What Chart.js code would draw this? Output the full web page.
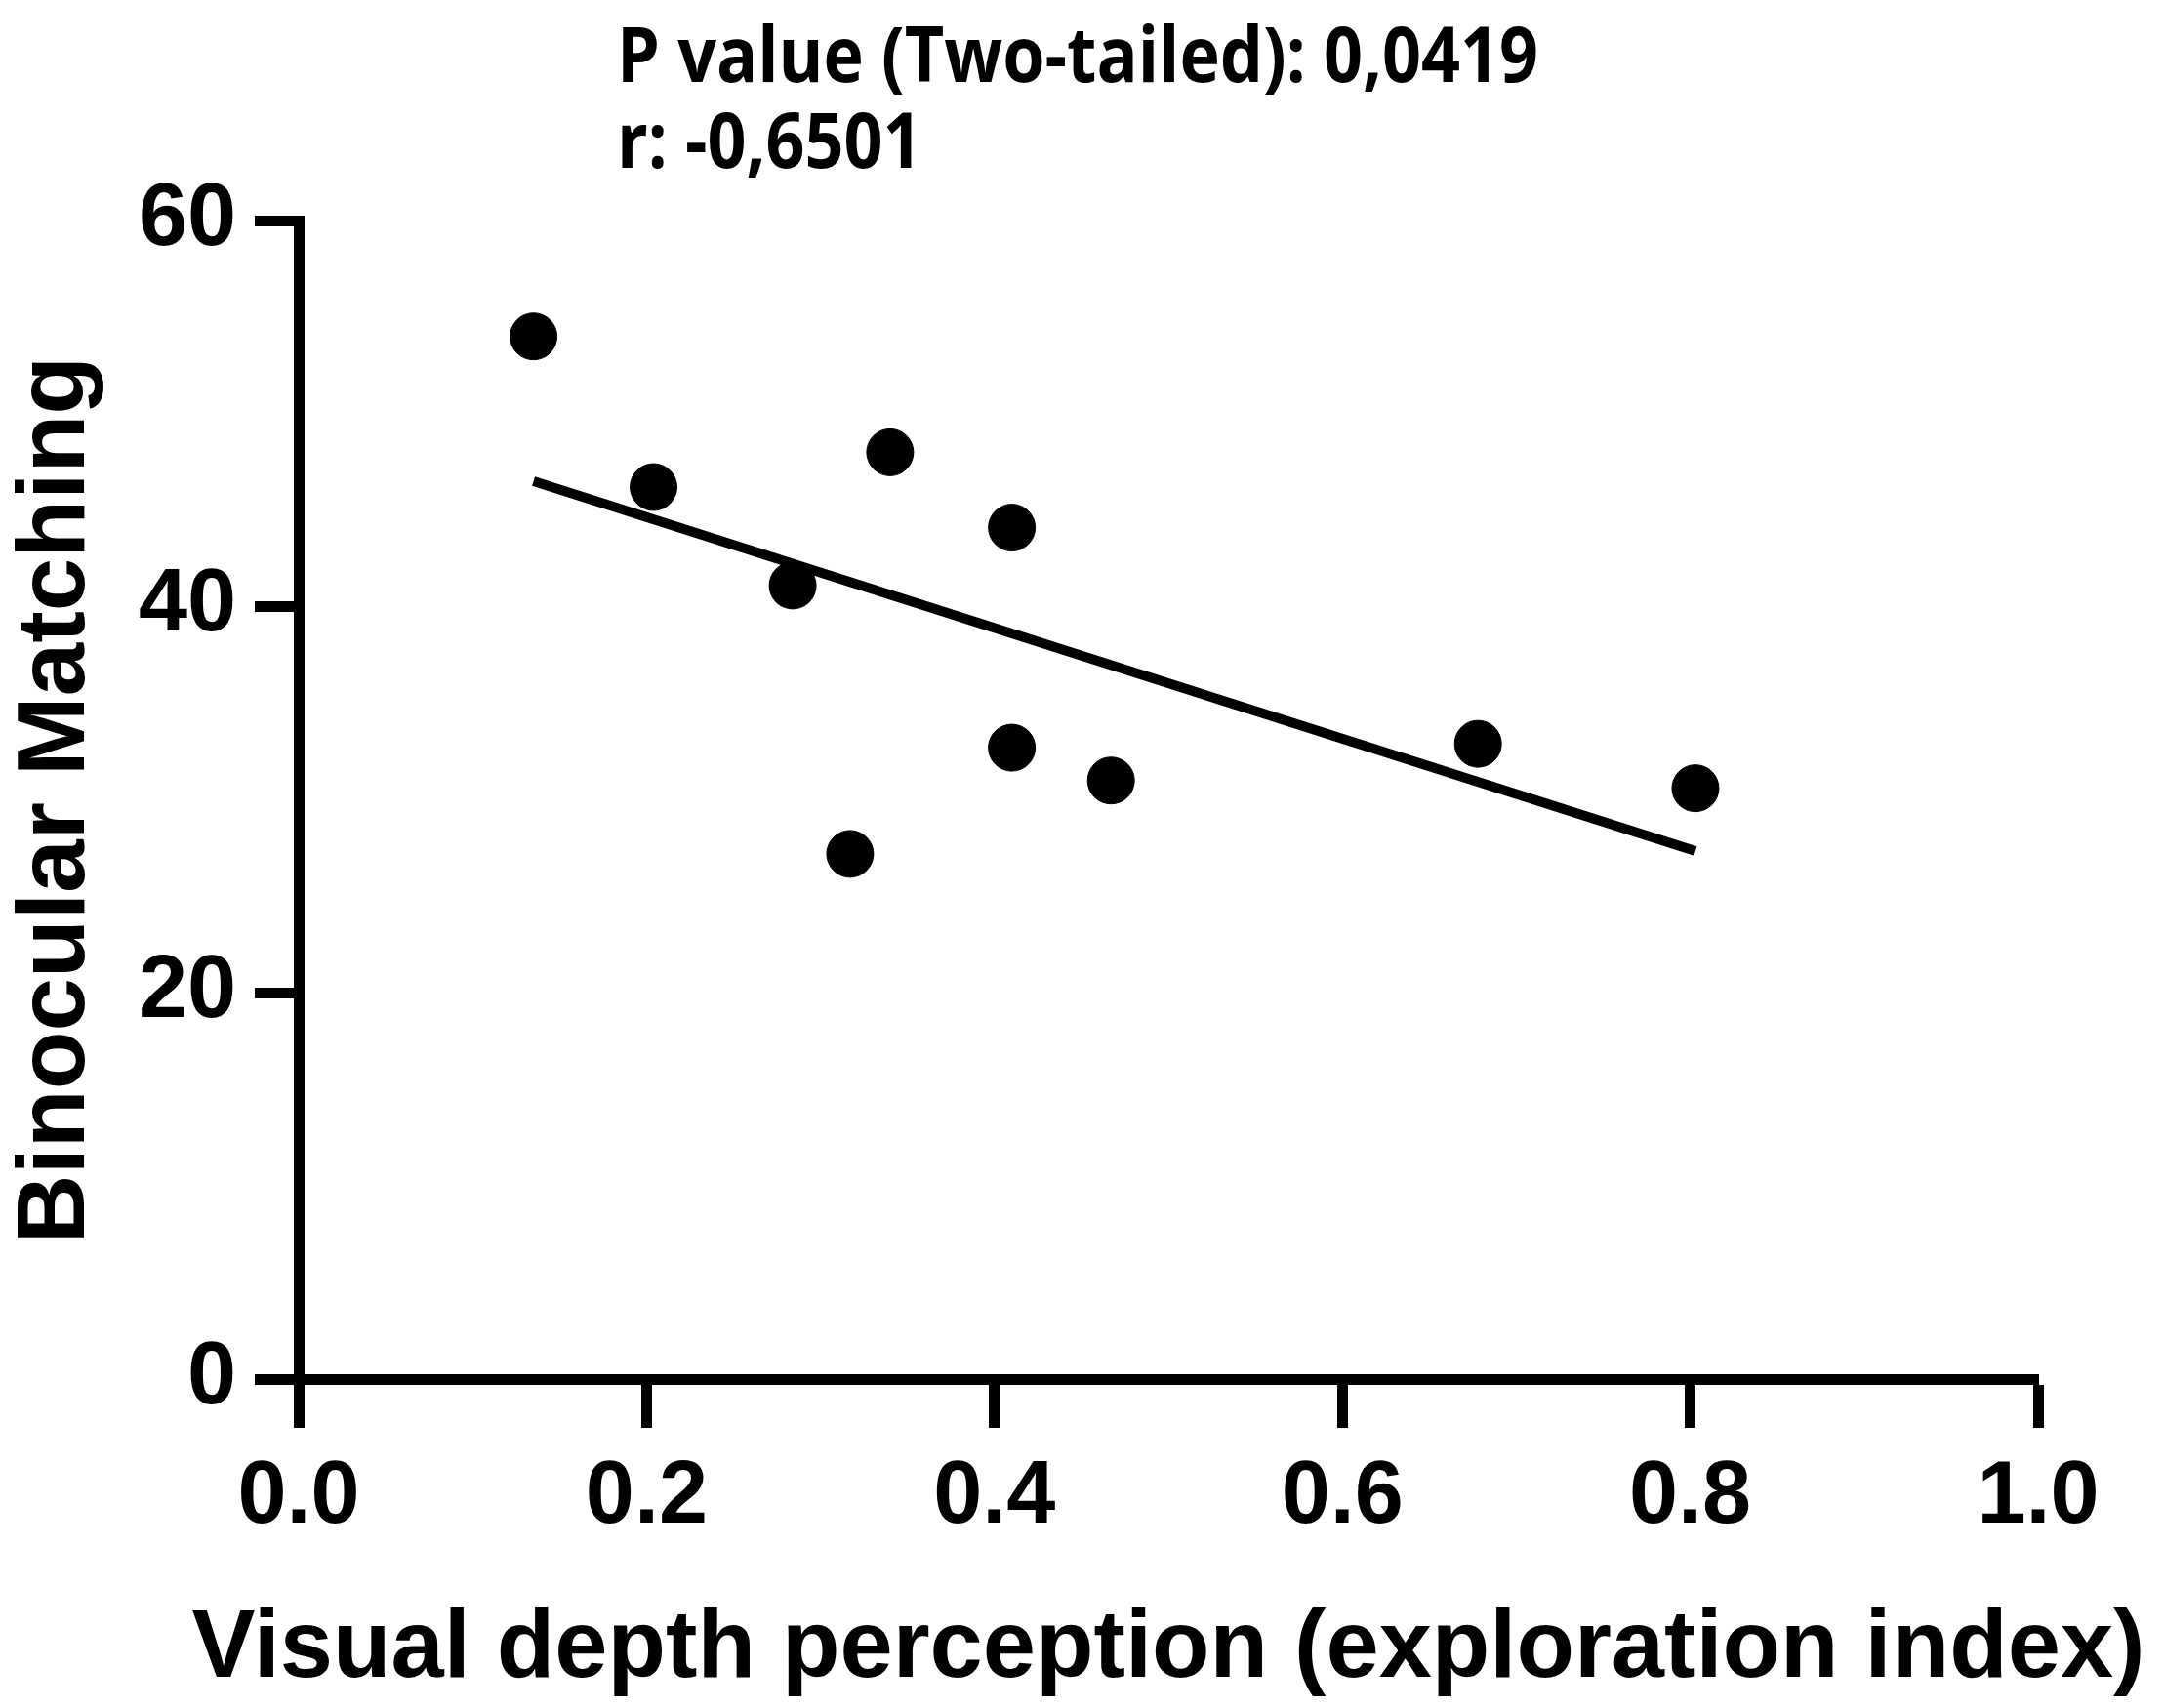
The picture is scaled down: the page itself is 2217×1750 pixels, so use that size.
<!DOCTYPE html>
<html>
<head>
<meta charset="utf-8">
<script src="https://cdn.jsdelivr.net/npm/chart.js@4/dist/chart.umd.min.js"></script>
<style>
  html, body { margin: 0; padding: 0; background: #fff; }
  #wrap { width: 2217px; height: 1750px; }
</style>
</head>
<body>
<div id="wrap"><canvas id="myChart" width="2217" height="1750"></canvas></div>
<script>
// measured points
const depthIndex = [0.135, 0.204, 0.340, 0.284, 0.410, 0.410, 0.467, 0.317, 0.678, 0.803];
const binocular = [54.0, 46.2, 48.0, 41.1, 44.1, 32.7, 31.0, 27.2, 32.9, 30.6];

// fitted line endpoints
const fitX = [0.135, 0.803];
const fitY = [46.5, 27.35];

const xTicks = [0, 0.2, 0.4, 0.6, 0.8, 1.0];
const yTicks = [0, 20, 40, 60];

const xTitle = "Visual depth perception (exploration index)";
const yTitle = "Binocular Matching";
const statLines = ["P value (Two-tailed): 0,0419", "r: -0,6501"];

const tickFont = { family: "'Liberation Sans', Arial, sans-serif", size: 90, weight: "bold" };
const titleFont = { family: "'Liberation Sans', Arial, sans-serif", size: 98, weight: "bold" };

// squeeze a text to a given width, like the narrow fonts of the original
function fitText(ctx, text, x, y, width) {
  const w0 = ctx.measureText(text).width;
  const sx = Math.min(1, width / w0);
  ctx.save();
  ctx.translate(x, y);
  ctx.scale(sx, 1);
  ctx.fillText(text, 0, 0);
  ctx.restore();
}

const extraText = {
  id: "extraText",
  afterDraw(chart) {
    const ctx = chart.ctx;
    const area = chart.chartArea;
    ctx.save();
    ctx.fillStyle = "#000";
    ctx.textBaseline = "alphabetic";

    // stats above the plot
    ctx.font = "bold 78px 'Open Sans', sans-serif";
    ctx.textAlign = "left";
    fitText(ctx, statLines[0], 632, 84, 944);
    fitText(ctx, statLines[1], 632, 172, 944 * ctx.measureText(statLines[1]).width / ctx.measureText(statLines[0]).width);

    // x axis title, wider than the axis itself
    ctx.font = "bold 98px 'Liberation Sans', Arial, sans-serif";
    ctx.textAlign = "center";
    fitText(ctx, xTitle, (area.left + area.right) / 2, 1718, 2001);
    ctx.restore();
  },
};

const chart1 = document.getElementById("myChart");
new Chart(chart1, {
  type: "scatter",
  data: {
    datasets: [
      {
        label: "fit",
        type: "line",
        data: fitX.map((x, i) => ({ x: x, y: fitY[i] })),
        borderColor: "#000",
        borderWidth: 10,
        pointRadius: 0,
        fill: false,
        order: 2,
      },
      {
        label: "subjects",
        data: depthIndex.map((x, i) => ({ x: x, y: binocular[i] })),
        backgroundColor: "#000",
        borderColor: "#000",
        pointRadius: 24,
        pointHoverRadius: 24,
        order: 1,
      },
    ],
  },
  options: {
    responsive: false,
    devicePixelRatio: 1,
    animation: false,
    layout: {
      padding: { top: 226, right: 129, left: 0, bottom: 0 },
    },
    plugins: {
      legend: { display: false },
      tooltip: { enabled: false },
    },
    scales: {
      x: {
        type: "linear",
        min: 0,
        max: 1,
        afterBuildTicks: (scale) => {
          scale.ticks = xTicks.map((v) => ({ value: v }));
        },
        afterFit: (scale) => {
          scale.height = 337;
        },
        ticks: {
          color: "#000",
          font: tickFont,
          padding: 18,
          maxRotation: 0,
          callback: (v) => Number(v).toFixed(1),
        },
        grid: {
          drawOnChartArea: false,
          drawTicks: true,
          tickLength: 50,
          tickWidth: 11,
          tickColor: "#000",
        },
        border: { display: true, color: "#000", width: 11 },
        title: { display: false },
      },
      y: {
        type: "linear",
        min: 0,
        max: 60,
        afterBuildTicks: (scale) => {
          scale.ticks = yTicks.map((v) => ({ value: v }));
        },
        afterFit: (scale) => {
          scale.width = 306;
        },
        ticks: {
          color: "#000",
          font: tickFont,
          padding: 19,
        },
        grid: {
          drawOnChartArea: false,
          drawTicks: true,
          tickLength: 45,
          tickWidth: 11,
          tickColor: "#000",
        },
        border: { display: true, color: "#000", width: 11 },
        title: {
          display: true,
          text: yTitle,
          color: "#000",
          font: titleFont,
          padding: { top: 0, bottom: 0 },
        },
      },
    },
  },
  plugins: [extraText],
});
</script>
</body>
</html>
